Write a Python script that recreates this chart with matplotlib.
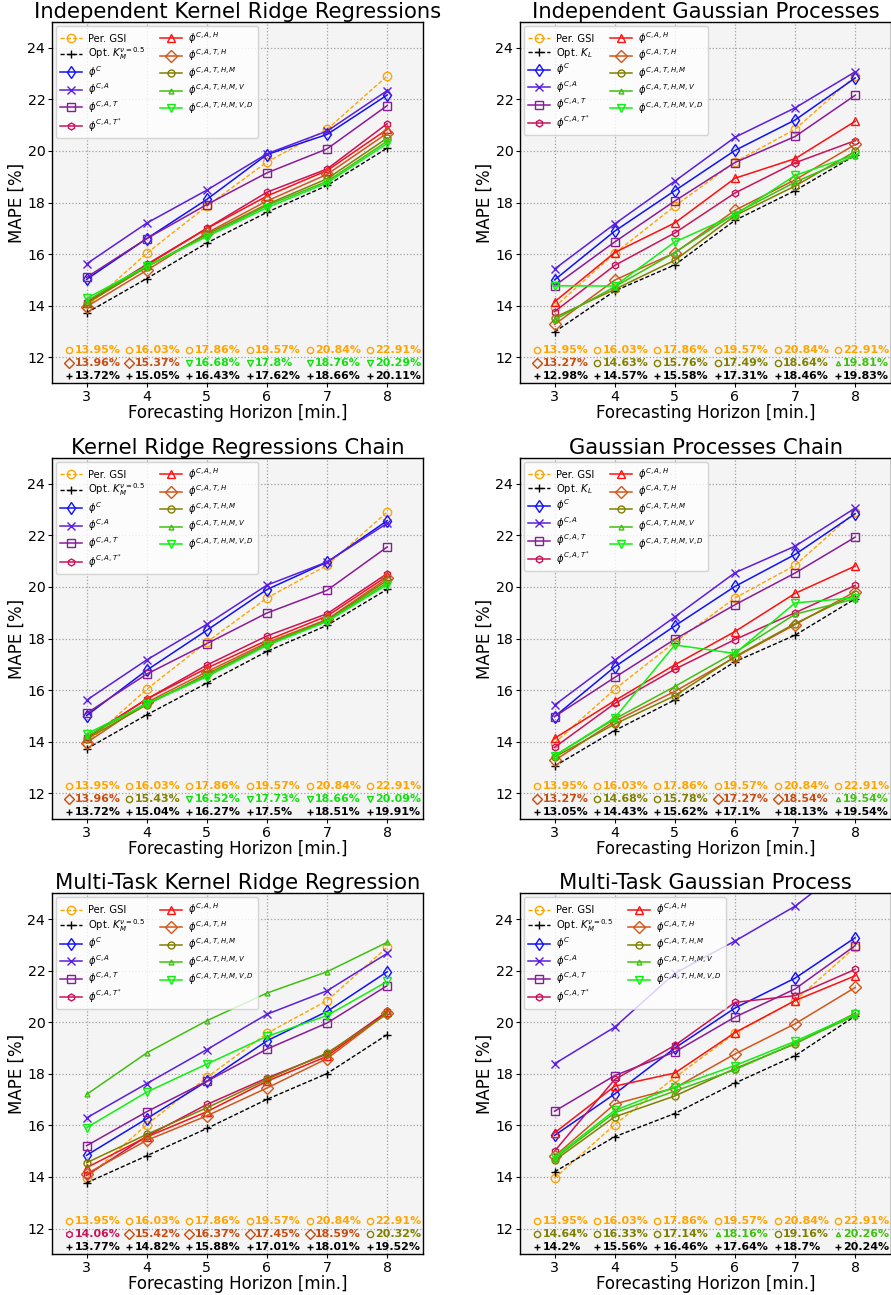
import matplotlib
matplotlib.use("Agg")
import matplotlib.pyplot as plt

plt.rcParams['font.family'] = ['DejaVu Sans']
plt.rcParams['mathtext.fontset'] = 'dejavusans'

horizons = [3, 4, 5, 6, 7, 8]
per_gsi = [13.95, 16.03, 17.86, 19.57, 20.84, 22.91]

titles = ["Independent Kernel Ridge Regressions", "Independent Gaussian Processes",
          "Kernel Ridge Regressions Chain", "Gaussian Processes Chain",
          "Multi-Task Kernel Ridge Regression", "Multi-Task Gaussian Process"]
opt_labels = [r"Opt. $K_M^{\nu=0.5}$", r"Opt. $K_L$", r"Opt. $K_M^{\nu=0.5}$",
              r"Opt. $K_L$", r"Opt. $K_M^{\nu=0.5}$", r"Opt. $K_M^{\nu=0.5}$"]
model_labels = [r"$\phi^{C}$", r"$\phi^{C,A}$", r"$\phi^{C,A,T}$", r"$\phi^{C,A,T^{*}}$",
                r"$\phi^{C,A,H}$", r"$\phi^{C,A,T,H}$", r"$\phi^{C,A,T,H,M}$",
                r"$\phi^{C,A,T,H,M,V}$", r"$\phi^{C,A,T,H,M,V,D}$"]

# Optimal-kernel baselines per panel
opt_ikrr = [13.72, 15.05, 16.43, 17.62, 18.66, 20.11]
opt_igp = [12.98, 14.57, 15.58, 17.31, 18.46, 19.83]
opt_krrc = [13.72, 15.04, 16.27, 17.5, 18.51, 19.91]
opt_gpc = [13.05, 14.43, 15.62, 17.1, 18.13, 19.54]
opt_mtkrr = [13.77, 14.82, 15.88, 17.01, 18.01, 19.52]
opt_mtgp = [14.2, 15.56, 16.46, 17.64, 18.7, 20.24]

# Model series (rows follow model_labels order)
ikrr = [
    [15.02, 16.6, 18.12, 19.86, 20.64, 22.17],
    [15.62, 17.2, 18.48, 19.89, 20.77, 22.34],
    [15.1, 16.6, 17.92, 19.15, 20.08, 21.76],
    [14.15, 15.6, 17.0, 18.4, 19.3, 21.06],
    [14.1, 15.57, 16.99, 18.25, 19.24, 20.84],
    [13.96, 15.37, 16.82, 18.06, 19.09, 20.69],
    [14.08, 15.5, 16.77, 17.93, 18.92, 20.5],
    [14.18, 15.53, 16.7, 17.88, 18.82, 20.38],
    [14.28, 15.53, 16.68, 17.8, 18.76, 20.29],
]
igp = [
    [15.0, 16.89, 18.46, 20.02, 21.2, 22.83],
    [15.42, 17.17, 18.83, 20.53, 21.67, 23.07],
    [14.77, 16.47, 18.06, 19.55, 20.56, 22.16],
    [13.77, 15.56, 16.82, 18.37, 19.54, 20.4],
    [14.15, 16.06, 17.21, 18.94, 19.7, 21.15],
    [13.27, 14.99, 16.05, 17.7, 18.88, 20.25],
    [13.54, 14.63, 15.76, 17.49, 18.64, 19.98],
    [13.45, 14.73, 16.06, 17.57, 18.79, 19.81],
    [14.77, 14.76, 16.47, 17.52, 19.05, 19.85],
]
krrc = [
    [15.01, 16.77, 18.32, 19.9, 20.96, 22.57],
    [15.61, 17.17, 18.55, 20.07, 20.97, 22.47],
    [15.1, 16.62, 17.8, 18.99, 19.87, 21.55],
    [14.17, 15.65, 16.97, 18.1, 18.96, 20.52],
    [14.14, 15.65, 16.85, 17.93, 18.87, 20.42],
    [13.96, 15.52, 16.71, 17.84, 18.74, 20.33],
    [14.1, 15.43, 16.62, 17.78, 18.71, 20.25],
    [14.2, 15.48, 16.55, 17.76, 18.68, 20.16],
    [14.3, 15.46, 16.52, 17.73, 18.66, 20.09],
]
gpc = [
    [14.97, 16.9, 18.49, 20.02, 21.26, 22.84],
    [15.42, 17.16, 18.84, 20.55, 21.58, 23.06],
    [14.97, 16.49, 17.97, 19.31, 20.54, 21.93],
    [13.78, 15.48, 16.81, 17.96, 19.0, 20.06],
    [14.13, 15.59, 16.98, 18.27, 19.75, 20.81],
    [13.27, 14.79, 15.95, 17.27, 18.54, 19.82],
    [13.4, 14.68, 15.78, 17.3, 18.58, 19.71],
    [13.46, 14.88, 16.14, 17.46, 18.94, 19.54],
    [13.45, 14.92, 17.75, 17.42, 19.38, 19.58],
]
mtkrr = [
    [14.84, 16.26, 17.71, 19.28, 20.42, 21.96],
    [16.29, 17.62, 18.94, 20.31, 21.22, 22.67],
    [15.21, 16.53, 17.71, 18.96, 19.97, 21.42],
    [14.06, 15.58, 16.81, 17.84, 18.77, 20.42],
    [14.36, 15.55, 16.53, 17.71, 18.68, 20.39],
    [14.12, 15.42, 16.37, 17.45, 18.59, 20.36],
    [14.55, 15.65, 16.68, 17.78, 18.81, 20.32],
    [17.2, 18.81, 20.06, 21.13, 21.96, 23.1],
    [15.91, 17.29, 18.38, 19.45, 20.26, 21.58],
]
mtgp = [
    [15.61, 17.22, 19.0, 20.55, 21.71, 23.28],
    [18.39, 19.81, 21.9, 23.15, 24.5, 26.3],
    [16.55, 17.93, 18.85, 20.2, 21.29, 22.97],
    [15.0, 17.78, 19.1, 20.77, 21.03, 22.05],
    [15.71, 17.52, 18.03, 19.6, 20.84, 21.8],
    [14.8, 16.83, 17.45, 18.77, 19.94, 21.35],
    [14.64, 16.33, 17.14, 18.2, 19.16, 20.35],
    [14.71, 16.49, 17.33, 18.16, 19.19, 20.26],
    [14.77, 16.58, 17.49, 18.32, 19.26, 20.31],
]

panels = [(ikrr, opt_ikrr), (igp, opt_igp), (krrc, opt_krrc),
          (gpc, opt_gpc), (mtkrr, opt_mtkrr), (mtgp, opt_mtgp)]

# styles
gsi_color = '#FFA500'
opt_color = 'black'
model_colors = ['#1010ff', '#5a1ee0', '#8b1a9b', '#c8145a', '#ff1010',
                '#d2561a', '#808000', '#40c010', '#10f010']
model_markers = ['d', 'x', 's', 'h', '^', 'D', 'o', '^', 'v']
model_msize = [6, 6, 6, 5, 6, 6, 5, 3.5, 6]
text_colors = ['#1010ff', '#5a1ee0', '#8b1a9b', '#c8145a', '#ff1010',
               '#c84c10', '#808000', '#40c010', '#10e010']
ann_msize = [5, 5, 5, 4.5, 5, 5, 4.5, 3, 5]

W, H = 891, 1295
fig = plt.figure(figsize=(W / 100, H / 100), dpi=100)
lefts = [52.3 / W, 520.3 / W]
bottoms = [1 - 383 / H, 1 - 819 / H, 1 - 1254.3 / H]
aw = 371.0 / W
ah = 361.0 / H

for i, (series, opt) in enumerate(panels):
    r, c = divmod(i, 2)
    ax = fig.add_axes([lefts[c], bottoms[r], aw, ah])
    ax.set_facecolor('#f4f4f4')
    ax.grid(True, linestyle=':', color='#a0a0a0', linewidth=0.9)
    ax.set_axisbelow(True)

    ax.plot(horizons, per_gsi, linestyle=(0, (3, 1.5)), color=gsi_color, lw=1.0,
            marker='o', ms=6, mfc='none', mec=gsi_color, label='Per. GSI')
    ax.plot(horizons, opt, linestyle=(0, (3, 1.5)), color=opt_color, lw=1.0,
            marker='+', ms=6, label=opt_labels[i])
    for k, vals in enumerate(series):
        ax.plot(horizons, vals, linestyle='-', color=model_colors[k], lw=1.1,
                marker=model_markers[k], ms=model_msize[k],
                mfc='none' if model_markers[k] not in ('x', '+') else model_colors[k],
                mec=model_colors[k], mew=1.0, label=model_labels[k])

    # annotation rows
    for j, h in enumerate(horizons):
        ax.plot([h - 0.29], [12.28], marker='o', ms=4.5, mfc='none', mec=gsi_color,
                linestyle='none')
        ax.text(h - 0.2, 12.28, f"{round(per_gsi[j], 2)}%", color=gsi_color,
                fontsize=7.9, fontweight='bold', ha='left', va='center')
        col_vals = [s[j] for s in series]
        kbest = min(range(len(col_vals)), key=lambda q: col_vals[q])
        ax.plot([h - 0.29], [11.78], marker=model_markers[kbest], ms=ann_msize[kbest],
                mfc='none', mec=text_colors[kbest], linestyle='none')
        ax.text(h - 0.2, 11.78, f"{round(col_vals[kbest], 2)}%", color=text_colors[kbest],
                fontsize=7.9, fontweight='bold', ha='left', va='center')
        ax.plot([h - 0.29], [11.29], marker='+', ms=4.5, color='black', linestyle='none')
        ax.text(h - 0.2, 11.29, f"{round(opt[j], 2)}%", color='black',
                fontsize=7.9, fontweight='bold', ha='left', va='center')

    ax.set_xlim(2.43, 8.6)
    ax.set_ylim(11.0, 25.0)
    ax.set_xticks(horizons)
    ax.set_yticks([12, 14, 16, 18, 20, 22, 24])
    ax.tick_params(labelsize=10.2, length=3, pad=2)
    ax.set_title(titles[i], fontsize=15.2, pad=3)
    ax.set_xlabel('Forecasting Horizon [min.]', fontsize=12, labelpad=0)
    ax.set_ylabel('MAPE [%]', fontsize=12, labelpad=1)
    for sp in ax.spines.values():
        sp.set_color('black')
        sp.set_linewidth(1.0)
    ax.legend(loc='upper left', ncol=2, fontsize=7.2, framealpha=0.8,
              handlelength=2.2, columnspacing=1.5, labelspacing=0.17,
              borderaxespad=0.4, handletextpad=0.6)

fig.savefig('out.png', dpi=100)
